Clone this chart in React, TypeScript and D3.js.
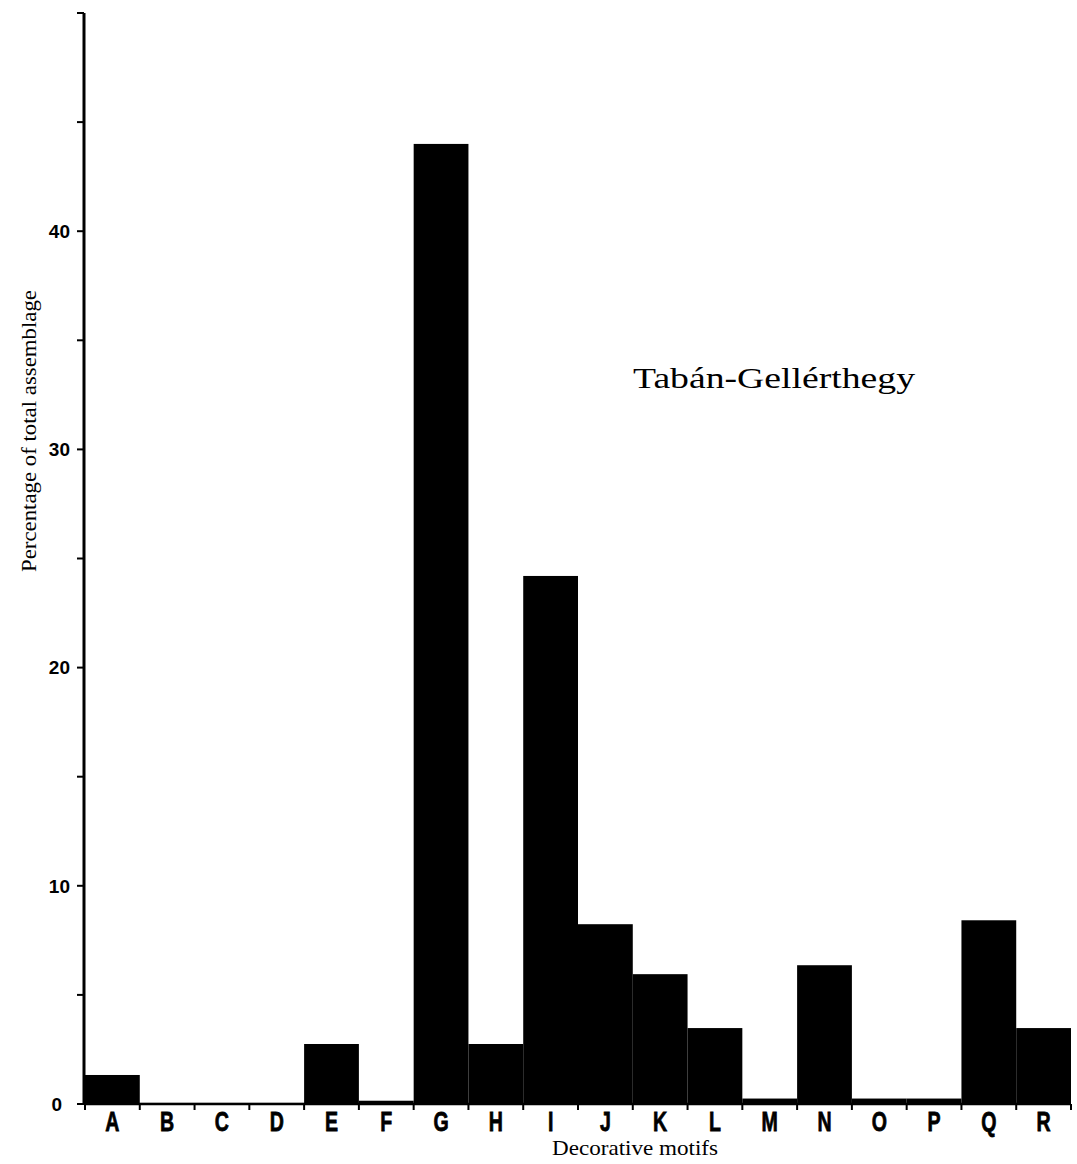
import React from "react";
import * as d3 from "d3";

const categories = ["A","B","C","D","E","F","G","H","I","J","K","L","M","N","O","P","Q","R"];
const values = [1.33, 0.05, 0.05, 0.05, 2.75, 0.15, 44.0, 2.75, 24.2, 8.24, 5.95, 3.48, 0.25, 6.36, 0.25, 0.25, 8.42, 3.48];
const majorTicks = [0, 10, 20, 30, 40];
const minorTicks = [5, 15, 25, 35, 45, 50];
const title = "Tabán-Gellérthegy";
const xLabel = "Decorative motifs";
const yLabel = "Percentage of total assemblage";

export default function App() {
  const W = 1077, H = 1164;
  const x = d3.scaleBand<string>().domain(categories).range([85, 1071]).padding(0);
  const y = d3.scaleLinear().domain([0, 50]).range([1104, 13]);
  const bounds = [...categories.map((c) => x(c)!), x.range()[1]];
  return (
    <svg width={W} height={H} style={{ position: "absolute", left: 0, top: 0, background: "#fff" }}>
      {categories.map((c, i) => (
        <rect key={c} x={x(c)} y={y(values[i])} width={x.bandwidth()} height={y(0) - y(values[i])} fill="#000" />
      ))}
      {/* y axis */}
      <line x1={84} x2={84} y1={y(50)} y2={y(0)} stroke="#000" strokeWidth={3} />
      {[...majorTicks, ...minorTicks].map((t) => (
        <line key={"t" + t} x1={77} x2={84} y1={y(t)} y2={y(t)} stroke="#000" strokeWidth={2} />
      ))}
      {majorTicks.map((t) => (
        <text key={"l" + t} x={t === 0 ? 62 : 70} y={y(t)} dy="0.36em" textAnchor="end"
          fontFamily="Liberation Sans, Arial, sans-serif" fontWeight="bold" fontSize={19}>{t}</text>
      ))}
      {/* x axis */}
      <line x1={84} x2={x.range()[1]} y1={y(0)} y2={y(0)} stroke="#000" strokeWidth={2.5} />
      {bounds.map((b, i) => (
        <line key={"b" + i} x1={b} x2={b} y1={y(0)} y2={y(0) + 6} stroke="#000" strokeWidth={2} />
      ))}
      {categories.map((c) => (
        <text key={"c" + c} x={x(c)! + x.bandwidth() / 2} y={1131} textAnchor="middle"
          fontFamily="Liberation Sans, Arial, sans-serif"
          fontWeight="bold" fontSize={28} stroke="#000" strokeWidth={0.8}
          transform={`translate(${x(c)! + x.bandwidth() / 2},0) scale(0.7,1) translate(${-(x(c)! + x.bandwidth() / 2)},0)`}>{c}</text>
      ))}
      <text x={552} y={1155} textLength={166} lengthAdjust="spacingAndGlyphs" fontFamily="Liberation Serif, Times New Roman, serif" fontSize={21}>{xLabel}</text>
      <text transform="translate(36,431) rotate(-90)" textAnchor="middle" textLength={282} lengthAdjust="spacingAndGlyphs" fontFamily="Liberation Serif, Times New Roman, serif" fontSize={20}>{yLabel}</text>
      <text x={633} y={388} textLength={282} lengthAdjust="spacingAndGlyphs" fontFamily="Liberation Serif, Times New Roman, serif" fontSize={30}>{title}</text>
    </svg>
  );
}
